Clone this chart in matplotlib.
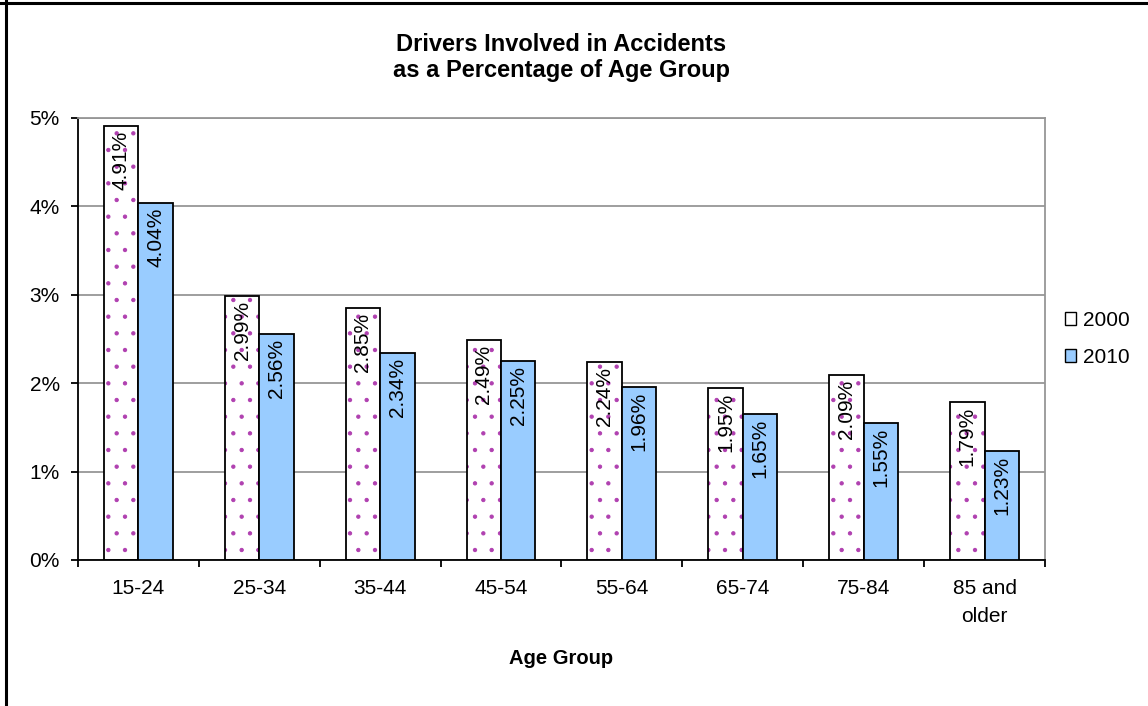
import numpy as np
import matplotlib
matplotlib.use('Agg')
import matplotlib.pyplot as plt
from matplotlib.patches import Patch
from matplotlib.lines import Line2D
from matplotlib.ticker import FuncFormatter

#-----------------------------------------
# Data
#-----------------------------------------
age_groups = ['15-24', '25-34', '35-44', '45-54', '55-64', '65-74', '75-84', '85 and\nolder']
pct_2000 = [4.91, 2.99, 2.85, 2.49, 2.24, 1.95, 2.09, 1.79]
pct_2010 = [4.04, 2.56, 2.34, 2.25, 1.96, 1.65, 1.55, 1.23]
series_names = ['2000', '2010']

plt.rcParams['font.family'] = ['Liberation Sans', 'DejaVu Sans']
plt.rcParams['hatch.linewidth'] = 0.7

fig = plt.figure(figsize=(11.48, 7.06), dpi=100)
ax = fig.add_axes([0.0679, 0.2068, 0.8424, 0.6261])

x = np.arange(len(age_groups))
w = 0.285

# 2000 bars: white with purple dots, black outline drawn on top
ax.bar(x - w/2, pct_2000, w, color='white', edgecolor='#b040b0', linewidth=0, hatch='.', zorder=2)
ax.bar(x - w/2, pct_2000, w, fill=False, edgecolor='black', linewidth=1.3, zorder=3)
ax.bar(x + w/2, pct_2010, w, color='#99ccff', edgecolor='black', linewidth=1.3, zorder=3)

# value labels inside the top of each bar
for xi, v in zip(x - w/2, pct_2000):
    ax.annotate('%.2f%%' % v, (xi, v), xytext=(0, -3.5), textcoords='offset points',
                rotation=90, ha='center', va='top', fontsize=15, zorder=4)
for xi, v in zip(x + w/2, pct_2010):
    ax.annotate('%.2f%%' % v, (xi, v), xytext=(0, -3.5), textcoords='offset points',
                rotation=90, ha='center', va='top', fontsize=15, zorder=4)

ax.set_xlim(-0.5, len(age_groups) - 0.5)
ax.set_ylim(0, 5)
ax.set_yticks(np.arange(0, 6, 1))
ax.yaxis.set_major_formatter(FuncFormatter(lambda v, p: '%d%%' % v))
ax.yaxis.grid(True, color='#969696', linewidth=1.3, zorder=0)
ax.set_axisbelow(True)

ax.set_xticks(np.arange(len(age_groups) + 1) - 0.5)
ax.set_xticklabels([])
ax.set_xticks(x, minor=True)
ax.set_xticklabels(age_groups, minor=True, fontsize=15, linespacing=1.6)
ax.tick_params(axis='x', which='minor', length=0, pad=14)
ax.tick_params(axis='x', which='major', length=5, width=1.3, color='black')
ax.tick_params(axis='y', length=5, width=1.3, labelsize=15, pad=8)

ax.spines['left'].set_color('black')
ax.spines['bottom'].set_color('black')
ax.spines['left'].set_linewidth(1.3)
ax.spines['bottom'].set_linewidth(1.3)
ax.spines['right'].set_color('#969696')
ax.spines['top'].set_color('#969696')
ax.spines['right'].set_linewidth(1.3)
ax.spines['top'].set_linewidth(1.3)

ax.set_xlabel('Age Group', fontsize=14.5, fontweight='bold', labelpad=16)
fig.text(0.489, 0.9185, 'Drivers Involved in Accidents\nas a Percentage of Age Group',
         ha='center', va='center', fontsize=17, fontweight='bold', linespacing=1.2)

handles = [Patch(facecolor='white', edgecolor='black', label=series_names[0]),
           Patch(facecolor='#99ccff', edgecolor='black', label=series_names[1])]
fig.legend(handles=handles, loc='center left', bbox_to_anchor=(0.911, 0.52), frameon=False,
           fontsize=15, handlelength=0.55, handleheight=0.55, handletextpad=0.35, labelspacing=0.85)

# chart frame (only top and left edges visible)
fig.add_artist(Line2D([0, 1], [0.996, 0.996], color='black', linewidth=2.2, transform=fig.transFigure))
fig.add_artist(Line2D([0.0055, 0.0055], [0, 1], color='black', linewidth=2.2, transform=fig.transFigure))

plt.savefig('out.png', dpi=100)
